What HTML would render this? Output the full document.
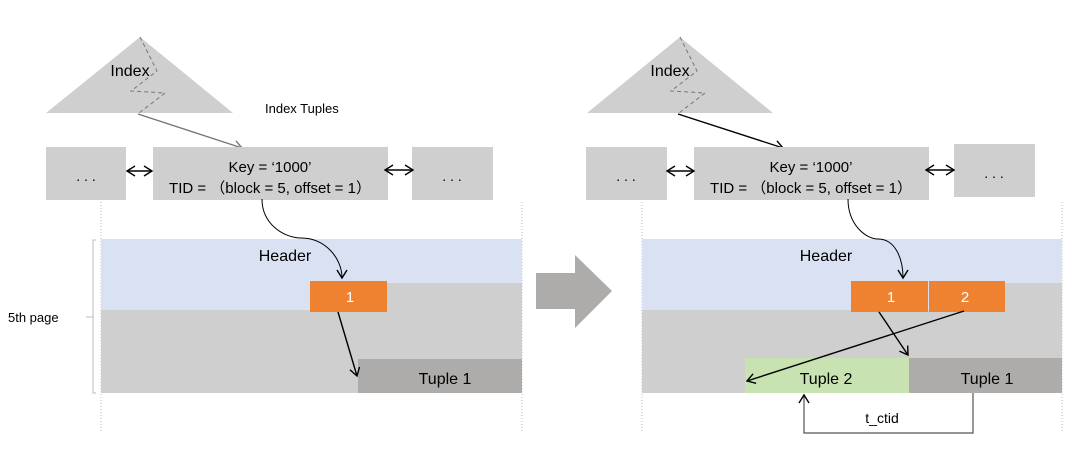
<!DOCTYPE html>
<html><head><meta charset="utf-8"><style>
html,body{margin:0;padding:0;background:#fff;}
svg{display:block;font-family:"Liberation Sans",sans-serif;}
</style></head><body>
<svg width="1080" height="458" viewBox="0 0 1080 458" xmlns="http://www.w3.org/2000/svg">
<defs>
<marker id="ah" markerWidth="12" markerHeight="12" refX="10" refY="6" orient="auto" markerUnits="userSpaceOnUse">
<path d="M2,1 L10,6 L2,11" fill="none" stroke="#000" stroke-width="1.4"/></marker>
<marker id="ahg" markerWidth="12" markerHeight="12" refX="10" refY="6" orient="auto" markerUnits="userSpaceOnUse">
<path d="M2,1 L10,6 L2,11" fill="none" stroke="#777" stroke-width="1.4"/></marker>
<marker id="as" markerWidth="12" markerHeight="12" refX="2" refY="6" orient="auto" markerUnits="userSpaceOnUse">
<path d="M10,1 L2,6 L10,11" fill="none" stroke="#000" stroke-width="1.4"/></marker>
</defs>

<!-- LEFT -->
<polygon points="140,37 46,113 233,113" fill="#d0cfcf"/>
<path d="M140,37 L157,71 L131,91 L165,93 L139,113" fill="none" stroke="#777" stroke-dasharray="4,3"/>
<text x="130" y="76" font-size="16" text-anchor="middle">Index</text>
<text x="265" y="113" font-size="13">Index Tuples</text>
<line x1="138" y1="114" x2="242" y2="148" stroke="#777" stroke-width="1.4" marker-end="url(#ahg)"/>
<rect x="46" y="147" width="80" height="53" fill="#d0cfcf"/>
<text x="86" y="181" font-size="14" text-anchor="middle">. . .</text>
<rect x="153" y="147" width="235" height="53" fill="#d0cfcf"/>
<text x="270" y="172" font-size="15" text-anchor="middle">Key = ‘1000’</text>
<text x="270" y="193" font-size="15" text-anchor="middle">TID = （block = 5, offset = 1）</text>
<rect x="412" y="147" width="81" height="53" fill="#d0cfcf"/>
<text x="452" y="181" font-size="14" text-anchor="middle">. . .</text>
<line x1="127" y1="171" x2="152" y2="171" stroke="#000" stroke-width="1.4" marker-start="url(#as)" marker-end="url(#ah)"/>
<line x1="385" y1="170" x2="413" y2="170" stroke="#000" stroke-width="1.4" marker-start="url(#as)" marker-end="url(#ah)"/>
<line x1="101" y1="202" x2="101" y2="433" stroke="#bbb" stroke-dasharray="1,2"/>
<line x1="522" y1="202" x2="522" y2="433" stroke="#bbb" stroke-dasharray="1,2"/>
<rect x="101" y="239" width="421" height="71" fill="#dae1f3"/>
<rect x="101" y="310" width="421" height="83" fill="#d0cfcf"/>
<rect x="387" y="283" width="135" height="27" fill="#d0cfcf"/>
<rect x="310" y="281" width="77" height="31" fill="#ee8230"/>
<text x="350" y="302" font-size="15" fill="#fff" text-anchor="middle">1</text>
<text x="285" y="261" font-size="16" text-anchor="middle">Header</text>
<rect x="358" y="359" width="164" height="34" fill="#aeabab"/>
<text x="445" y="384" font-size="16" text-anchor="middle">Tuple 1</text>
<path d="M96,240 L93,240 L93,393 L96,393 M86,317 L93,317" fill="none" stroke="#bbb" stroke-width="1"/>
<text x="8" y="322" font-size="13">5th page</text>
<path d="M262,199 C262,225 285,238 301,238 C325,238 342,258 342,278" fill="none" stroke="#000" stroke-width="1" marker-end="url(#ah)"/>
<line x1="338" y1="312" x2="357" y2="376" stroke="#000" stroke-width="1.4" marker-end="url(#ah)"/>

<!-- big arrow -->
<polygon points="536,273 575,273 575,255 612,291 575,328 575,309 536,309" fill="#aeabab"/>

<!-- RIGHT -->
<polygon points="680,37 587,113 773,113" fill="#d0cfcf"/>
<path d="M680,37 L697,71 L671,91 L705,93 L679,113" fill="none" stroke="#777" stroke-dasharray="4,3"/>
<text x="670" y="76" font-size="16" text-anchor="middle">Index</text>
<line x1="678" y1="114" x2="783" y2="148" stroke="#000" stroke-width="1.4" marker-end="url(#ah)"/>
<rect x="586" y="147" width="81" height="53" fill="#d0cfcf"/>
<text x="626" y="181" font-size="14" text-anchor="middle">. . .</text>
<rect x="694" y="147" width="235" height="53" fill="#d0cfcf"/>
<text x="811" y="172" font-size="15" text-anchor="middle">Key = ‘1000’</text>
<text x="811" y="193" font-size="15" text-anchor="middle">TID = （block = 5, offset = 1）</text>
<rect x="954" y="144" width="81" height="53" fill="#d0cfcf"/>
<text x="994" y="178" font-size="14" text-anchor="middle">. . .</text>
<line x1="667" y1="171" x2="694" y2="171" stroke="#000" stroke-width="1.4" marker-start="url(#as)" marker-end="url(#ah)"/>
<line x1="926" y1="170" x2="954" y2="170" stroke="#000" stroke-width="1.4" marker-start="url(#as)" marker-end="url(#ah)"/>
<line x1="642" y1="202" x2="642" y2="433" stroke="#bbb" stroke-dasharray="1,2"/>
<line x1="1062" y1="202" x2="1062" y2="433" stroke="#bbb" stroke-dasharray="1,2"/>
<rect x="642" y="239" width="420" height="71" fill="#dae1f3"/>
<rect x="642" y="310" width="420" height="83" fill="#d0cfcf"/>
<rect x="1005" y="283" width="57" height="27" fill="#d0cfcf"/>
<rect x="851" y="281" width="77" height="31" fill="#ee8230"/>
<rect x="929" y="281" width="76" height="31" fill="#ee8230"/>
<text x="891" y="302" font-size="15" fill="#fff" text-anchor="middle">1</text>
<text x="965" y="302" font-size="15" fill="#fff" text-anchor="middle">2</text>
<text x="826" y="261" font-size="16" text-anchor="middle">Header</text>
<rect x="745" y="358" width="164" height="35" fill="#c8e3b1"/>
<rect x="909" y="358" width="153" height="35" fill="#aeabab"/>
<text x="826" y="384" font-size="16" text-anchor="middle">Tuple 2</text>
<text x="987" y="384" font-size="16" text-anchor="middle">Tuple 1</text>
<path d="M848,199 C848,225 866,239 878,239 C895,239 903,258 903,278" fill="none" stroke="#000" stroke-width="1" marker-end="url(#ah)"/>
<line x1="879" y1="312" x2="908" y2="355" stroke="#000" stroke-width="1.4" marker-end="url(#ah)"/>
<line x1="964" y1="311" x2="747" y2="381" stroke="#000" stroke-width="1.4" marker-end="url(#ah)"/>
<path d="M973,393 L973,433 L804,433 L804,395" fill="none" stroke="#555" stroke-width="1.2" marker-end="url(#ah)"/>
<text x="882" y="423" font-size="14" text-anchor="middle">t_ctid</text>
</svg>
</body></html>
